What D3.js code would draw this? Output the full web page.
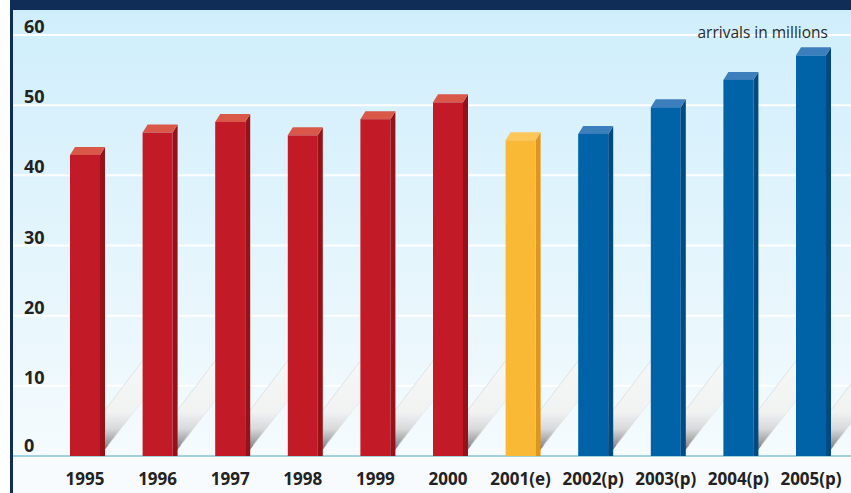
<!DOCTYPE html>
<html><head><meta charset="utf-8">
<script src="https://cdn.jsdelivr.net/npm/d3@7"></script>
<style>html,body{margin:0;padding:0;background:#fff;}svg{display:block;}</style>
</head><body>
<script>
const categories = ["1995","1996","1997","1998","1999","2000","2001(e)","2002(p)","2003(p)","2004(p)","2005(p)"];
const values = [42.9, 46.1, 47.6, 45.7, 48.0, 50.4, 45.0, 45.9, 49.7, 53.6, 57.1];
const kinds = ["actual","actual","actual","actual","actual","actual","estimate","projection","projection","projection","projection"];
const yTicks = [0, 10, 20, 30, 40, 50, 60];
const unitLabel = "arrivals in millions";

const W = 851, H = 493;
const palette = {
  actual:     {front:"#c21b27", side:"#971119", top:"#d95848"},
  estimate:   {front:"#f9b935", side:"#e0961c", top:"#fcc658"},
  projection: {front:"#0063a8", side:"#004a80", top:"#3d7fbd"}
};
const svg = d3.select("body").append("svg").attr("width", W).attr("height", H);
const defs = svg.append("defs");
const bg = defs.append("linearGradient").attr("id","bg").attr("x1",0).attr("y1",0).attr("x2",0).attr("y2",1);
bg.append("stop").attr("offset","0%").attr("stop-color","#cfeefc");
bg.append("stop").attr("offset","55%").attr("stop-color","#e4f5fc");
bg.append("stop").attr("offset","100%").attr("stop-color","#f5fbfe");

const y = d3.scaleLinear().domain([0, 60]).range([456, 35]);
const x = d3.scalePoint().domain(categories).range([85, 811]);
const bw = 30, dx = 5, dy = 8;
const y0 = y(0);

// background
svg.append("rect").attr("x",13).attr("y",10).attr("width",W-13).attr("height",y0-10).attr("fill","url(#bg)");
svg.append("rect").attr("x",13).attr("y",y0).attr("width",W-13).attr("height",H-y0).attr("fill","#f7fbfd");

// shadow gradient
const sg = defs.append("linearGradient").attr("id","sh").attr("gradientUnits","userSpaceOnUse")
  .attr("x1",0).attr("y1",y0-97).attr("x2",0).attr("y2",y0);
sg.append("stop").attr("offset","0%").attr("stop-color","#f6f7f7");
sg.append("stop").attr("offset","55%").attr("stop-color","#f1f2f2");
sg.append("stop").attr("offset","72%").attr("stop-color","#d8d9db");
sg.append("stop").attr("offset","100%").attr("stop-color","#5f6165");

// gridlines
svg.append("g").selectAll("line").data(yTicks.filter(d=>d>0)).join("line")
  .attr("x1",13).attr("x2",W).attr("y1",d=>y(d)).attr("y2",d=>y(d))
  .attr("stroke","#ffffff").attr("stroke-width",2);

// shadows
const sh = svg.append("g");
categories.forEach((c,i)=>{
  const xr = x(c) + bw/2;
  const pts = [[xr, y0],[xr, y0-40],[xr+44, y0-97],[xr+44, y0-57]];
  sh.append("path").attr("d", d3.line()(pts)+"Z").attr("fill","url(#sh)");
  sh.append("line").attr("x1",xr+dx).attr("y1",y0-46).attr("x2",xr+44).attr("y2",y0-97)
    .attr("stroke","#d8dadb").attr("stroke-width",0.7);
  sh.append("line").attr("x1",xr+8).attr("y1",y0-11).attr("x2",xr+44).attr("y2",y0-57)
    .attr("stroke","#e2e4e5").attr("stroke-width",0.6);
});

// baseline
svg.append("line").attr("x1",13).attr("x2",W).attr("y1",y0).attr("y2",y0)
  .attr("stroke","#a3cfe2").attr("stroke-width",2);

// bars
const bars = svg.append("g");
categories.forEach((c,i)=>{
  const col = palette[kinds[i]];
  const xl = x(c) - bw/2, xr = xl + bw, yt = y(values[i]);
  bars.append("path").attr("d", d3.line()([[xr,y0],[xr,yt],[xr+dx,yt-dy],[xr+dx,y0]])+"Z").attr("fill", col.side);
  bars.append("path").attr("d", d3.line()([[xl,yt],[xl+dx,yt-dy],[xr+dx,yt-dy],[xr,yt]])+"Z").attr("fill", col.top);
  bars.append("rect").attr("x",xl).attr("y",yt).attr("width",bw).attr("height",y0-yt).attr("fill",col.front);
});

// y tick labels
svg.append("g").selectAll("text").data(yTicks).join("text")
  .attr("x",24).attr("y",d=>y(d)-2 - (d===0?2:0))
  .attr("font-family","'Open Sans', sans-serif").attr("font-weight","bold").attr("font-size",18)
  .attr("fill","#222").text(d=>d);

// x labels
svg.append("g").selectAll("text").data(categories).join("text")
  .attr("x",d=>x(d)).attr("y",485).attr("text-anchor","middle")
  .attr("font-family","'Open Sans', sans-serif").attr("font-weight","bold").attr("font-size",17)
  .attr("fill","#222").text(d=>d);

svg.append("text").attr("x",828).attr("y",38).attr("text-anchor","end")
  .attr("font-family","'Open Sans', sans-serif").attr("font-size",15.5).attr("fill","#2a2a2a").text(unitLabel);

// frame
svg.append("rect").attr("x",10).attr("y",0).attr("width",W-10).attr("height",10).attr("fill","#0f2d57");
svg.append("rect").attr("x",10).attr("y",0).attr("width",3).attr("height",H).attr("fill","#0f2d57");
</script>
</body></html>
